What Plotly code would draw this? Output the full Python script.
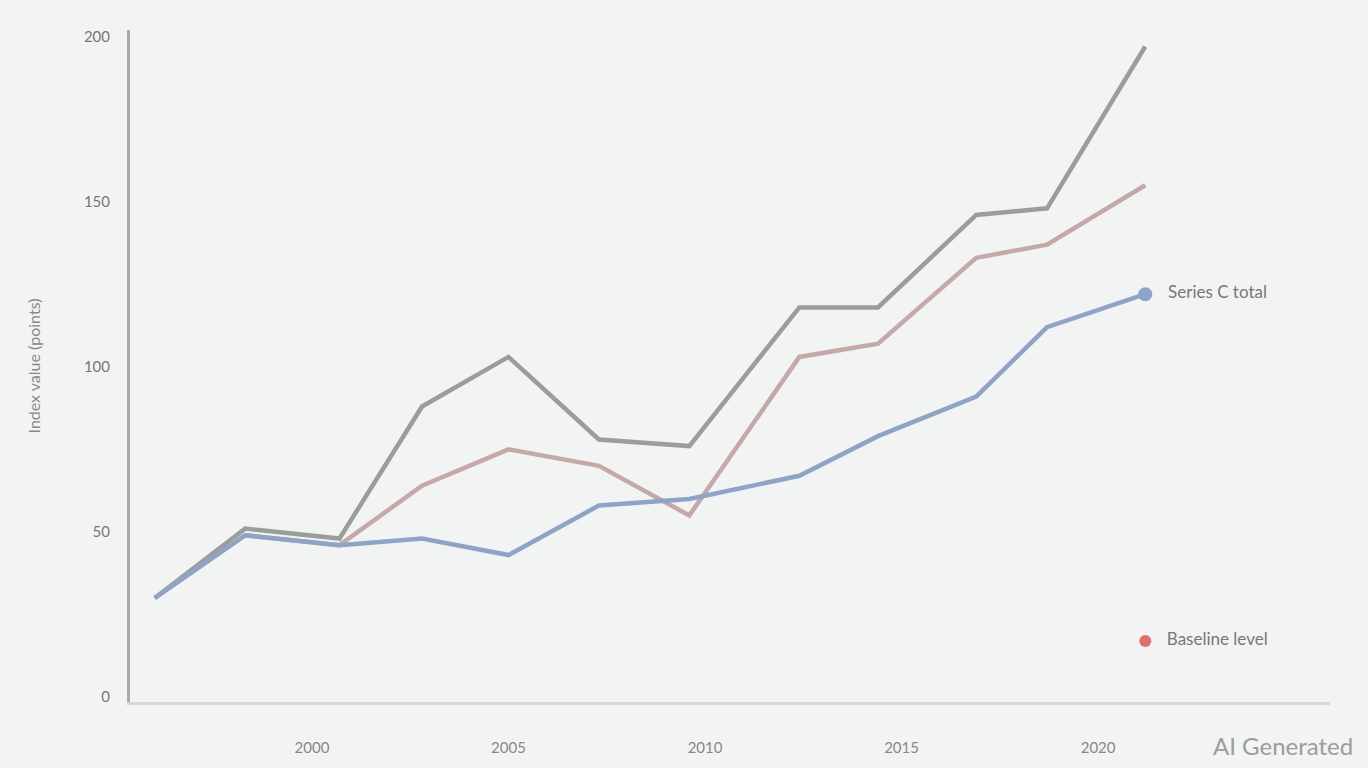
import plotly.graph_objects as go

# ---- data ----
years = [1996, 1998.3, 2000.7, 2002.8, 2005, 2007.3, 2009.6, 2012.4, 2014.4, 2016.9, 2018.7, 2021.2]
series_a = [30, 51, 48, 88, 103, 78, 76, 118, 118, 146, 148, 197]   # grey
series_b = [30, 49, 46, 64, 75, 70, 55, 103, 107, 133, 137, 155]    # rose
series_c = [30, 49, 46, 48, 43, 58, 60, 67, 79, 91, 112, 122]       # blue
name_a = "Series A"
name_b = "Series B"
name_c = "Series C total"
marker_point_x = [2021.2]
marker_point_y = [17]
marker_label = "Baseline level"

x_ticks = [2000, 2005, 2010, 2015, 2020]
y_ticks = [0, 50, 100, 150, 200]

BG = "#f2f4f3"
GREY = "#9a9d9c"
ROSE = "#c4a9a8"
BLUE = "#8ea3c6"
RED = "#e07070"

fig = go.Figure()
fig.add_trace(go.Scatter(x=years, y=series_a, mode="lines", name=name_a,
                         line=dict(color=GREY, width=4.5), showlegend=False))
fig.add_trace(go.Scatter(x=years, y=series_b, mode="lines", name=name_b,
                         line=dict(color=ROSE, width=4.5), showlegend=False))
fig.add_trace(go.Scatter(x=years, y=series_c, mode="lines", name=name_c,
                         line=dict(color=BLUE, width=4.5), showlegend=False))
# end marker + label for blue series
fig.add_trace(go.Scatter(x=years[-1:], y=series_c[-1:], mode="markers+text",
                         marker=dict(color=BLUE, size=14),
                         text=["   " + name_c], textposition="middle right",
                         textfont=dict(color="#777", size=17, family="Lato"),
                         showlegend=False))
# red marker + label bottom right
fig.add_trace(go.Scatter(x=marker_point_x, y=marker_point_y, mode="markers+text",
                         marker=dict(color=RED, size=12),
                         text=["   " + marker_label], textposition="middle right",
                         textfont=dict(color="#777", size=17, family="Lato"),
                         showlegend=False))

fig.update_layout(
    width=1368, height=768,
    paper_bgcolor=BG, plot_bgcolor=BG,
    margin=dict(l=130, r=38, t=30, b=66),
    font=dict(family="Lato", color="#777", size=14),
    showlegend=False,
)
fig.update_xaxes(range=[1995.37, 2025.9], tickvals=x_ticks,
                 showgrid=False, zeroline=False,
                 showline=True, linecolor="#d8d8d8", linewidth=3,
                 ticks="", ticklabelstandoff=30, tickfont=dict(size=15, color="#888"))
fig.update_yaxes(range=[-1.5, 202], tickvals=y_ticks,
                 showgrid=False, zeroline=False,
                 showline=True, linecolor="#aaaaaa", linewidth=3,
                 ticks="", ticklabelstandoff=14, tickfont=dict(size=15, color="#777"),
                 title=dict(text="Index value (points)", font=dict(size=16, color="#888"),
                            standoff=40))
fig.add_annotation(text="AI Generated", xref="paper", yref="paper",
                   x=1.0208, y=-0.064, xanchor="right", yanchor="middle",
                   showarrow=False, font=dict(family="Lato", size=24, color="#9c9c9c"))

fig.write_html("out.html", config={"displayModeBar": False},
               post_script="document.body.style.margin='0';document.body.style.background='#f2f4f3';")
